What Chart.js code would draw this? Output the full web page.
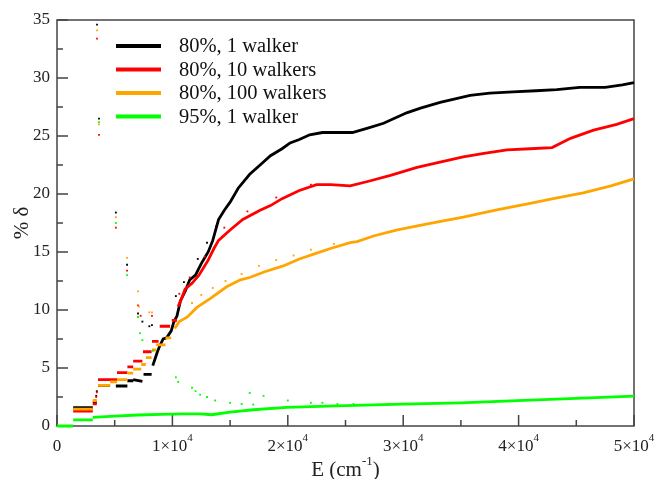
<!DOCTYPE html>
<html>
<head>
<meta charset="utf-8">
<script src="https://cdn.jsdelivr.net/npm/chart.js@4.4.1/dist/chart.umd.min.js"></script>
<style>
  html, body { margin: 0; padding: 0; background: #fff; }
</style>
</head>
<body>
<canvas id="chart" width="655" height="479"></canvas>
<script>
// series names as in the legend
const seriesNames = ['80%, 1 walker', '80%, 10 walkers', '80%, 100 walkers', '95%, 1 walker'];
const seriesColors = ['#000000', '#ff0000', '#ffa500', '#00ff00'];

// main curves (E in cm^-1, % delta); null = break between steps
const blackE = [1400, 3100, null, 3100, 3450, null, 3550, 4600, null, 5100, 6100, null, 6100, 6600, null, 6600, 7400, null, 7500, 8200, null,
  8300, 8500, 8700, 8900, 9200, 9500, 9900, 10100, 10400, 10700, 11100, 11500, 12000, 12500, 13100, 13500, 14000, 14500, 15000, 15700,
  16700, 17600, 18500, 19500, 20200, 21000, 21900, 23000, 24000, 25600, 27000, 28300, 30300, 31500, 33200, 35800, 37500, 39500, 41500,
  43300, 45300, 47500, 49000, 50000];
const blackV = [1.58, 1.58, null, 2.05, 2.05, null, 3.5, 3.5, null, 3.45, 3.45, null, 3.9, 3.9, null, 4.0, 3.85, null, 4.45, 4.45, null,
  5.2, 5.8, 6.4, 6.9, 7.5, 7.6, 8.2, 8.9, 9.5, 10.8, 11.6, 12.6, 13.0, 14.0, 15.0, 16.0, 17.8, 18.6, 19.3, 20.5,
  21.7, 22.5, 23.3, 23.9, 24.4, 24.7, 25.1, 25.3, 25.3, 25.3, 25.7, 26.1, 27.0, 27.4, 27.9, 28.5, 28.7, 28.8, 28.9,
  29.0, 29.2, 29.2, 29.4, 29.6];

const redE = [1400, 3100, null, 3100, 3450, null, 3550, 5200, null, 5200, 6100, null, 6100, 6600, null, 6600, 7400, null, 7450, 8200, null,
  8230, 8800, null, 8900, 9800, null, 9950, 10400, null,
  10500, 10800, 11100, 11700, 12300, 13100, 13600, 14000, 15000, 16100, 17600, 18500, 19500, 21000, 22500, 23700, 25400, 27000,
  28900, 31200, 33000, 35200, 37000, 39000, 41000, 42900, 44500, 46500, 48500, 50000];
const redV = [1.29, 1.29, null, 1.9, 1.9, null, 4.0, 4.0, null, 4.6, 4.6, null, 5.1, 5.1, null, 5.6, 5.6, null, 6.4, 6.4, null,
  7.3, 7.3, null, 8.6, 8.6, null, 9.1, 9.1, null,
  10.3, 11.0, 11.8, 12.3, 13.0, 14.3, 15.3, 16.0, 16.9, 17.8, 18.6, 19.0, 19.6, 20.3, 20.8, 20.8, 20.7, 21.1,
  21.6, 22.3, 22.7, 23.2, 23.5, 23.8, 23.9, 24.0, 24.8, 25.5, 26.0, 26.5];

const orangeE = [1400, 3100, null, 3100, 3450, null, 3550, 4600, null, 4600, 5200, null, 5200, 6100, null, 6100, 6600, null, 6600, 7300, null,
  7300, 7700, null, 7700, 8200, null, 8230, 8600, null, 8600, 9400, null, 9400, 9900, null,
  10200, 10600, 11300, 12100, 13300, 14700, 15900, 16700, 18000, 19600, 21000, 22500, 23700, 25400, 26000, 27500, 29500,
  32000, 35200, 38000, 41000, 43000, 45600, 48000, 50000];
const orangeV = [1.46, 1.46, null, 2.2, 2.2, null, 3.5, 3.5, null, 3.8, 3.8, null, 4.0, 4.0, null, 4.55, 4.55, null, 4.9, 4.9, null,
  5.3, 5.3, null, 5.9, 5.9, null, 6.55, 6.55, null, 7.0, 7.0, null, 7.6, 7.6, null,
  8.4, 9.0, 9.4, 10.2, 11.0, 12.0, 12.6, 12.8, 13.3, 13.8, 14.4, 14.9, 15.3, 15.8, 15.9, 16.4, 16.9,
  17.4, 18.0, 18.6, 19.2, 19.6, 20.1, 20.7, 21.3];

const greenE = [0, 1400, null, 1400, 3100, null, 3100, 5000, 7000, 9000, 11000, 12400, 13400, 15000, 17000, 19900, 25000, 29900,
  35000, 39900, 45000, 50000];
const greenV = [0, 0, null, 0.52, 0.52, null, 0.75, 0.85, 0.95, 1.0, 1.05, 1.05, 0.97, 1.2, 1.4, 1.6, 1.75, 1.88,
  2.0, 2.18, 2.38, 2.58];

// scattered single points
const blackDotsE = [3470, 3640, 3400, 3450, 5100, 6070, 7020, 7400, 8230, 8000, 10300, 11000, 12200, 13000, 13800];
const blackDotsV = [34.6, 26.5, 2.6, 3.0, 18.4, 13.9, 9.7, 9.0, 8.7, 8.6, 11.2, 12.4, 14.4, 15.8, 17.2];
const redDotsE = [3470, 3640, 3400, 3450, 5100, 6070, 7020, 7250, 8230, 10600, 11500, 12800, 14500, 16500, 19000, 22000];
const redDotsV = [33.4, 25.1, 2.5, 2.9, 17.1, 13.4, 10.4, 9.5, 9.5, 11.4, 12.8, 14.6, 17.1, 18.5, 19.7, 20.8];
const orangeDotsE = [3470, 3640, 5100, 6070, 7020, 7100, 8000, 8230, 11700, 12500, 13500, 14600, 16000, 17500, 19000, 20500, 22000, 24000];
const orangeDotsV = [34.1, 26.0, 18.0, 14.5, 11.6, 10.3, 9.8, 9.8, 10.6, 11.3, 11.9, 12.5, 13.1, 13.8, 14.3, 14.7, 15.2, 15.7];
const greenDotsE = [3640, 5100, 6070, 7020, 7200, 7400, 8300, 10300, 10500, 11700, 12000, 12400, 13000, 13700, 15000, 16000,
  16700, 17000, 17900, 20000, 22000, 23000, 24300, 25700, 28700];
const greenDotsV = [26.2, 17.5, 13.0, 9.4, 8.0, 7.4, 6.5, 4.2, 3.8, 3.3, 3.0, 2.7, 2.5, 2.2, 2.0, 1.9,
  2.85, 1.85, 2.6, 2.2, 2.0, 2.0, 1.9, 1.9, 1.9];

const xMax = 50000;
const yMax = 35;

function toPoints(xs, ys) {
  return xs.map((x, i) => ({ x: x === null ? 0 : x, y: ys[i] }));
}

const lineSets = [[blackE, blackV], [redE, redV], [orangeE, orangeV], [greenE, greenV]];
const dotSets = [[blackDotsE, blackDotsV], [redDotsE, redDotsV], [orangeDotsE, orangeDotsV], [greenDotsE, greenDotsV]];

const datasets = [];
lineSets.forEach((s, i) => {
  datasets.push({
    label: seriesNames[i],
    data: toPoints(s[0], s[1]),
    showLine: true,
    borderColor: seriesColors[i],
    borderWidth: 2.8,
    pointRadius: 0,
    spanGaps: false,
    clip: 4,
    order: 4 - i
  });
});
dotSets.forEach((s, i) => {
  datasets.push({
    label: seriesNames[i] + ' dots',
    data: toPoints(s[0], s[1]),
    showLine: false,
    pointStyle: 'rect',
    pointRadius: 1.3,
    pointBorderWidth: 0,
    backgroundColor: seriesColors[i],
    borderColor: seriesColors[i],
    order: 4 - i
  });
});

const serif = "'Liberation Serif', 'Times New Roman', Times, 'DejaVu Serif', serif";

const framePlugin = {
  id: 'framePlugin',
  beforeDatasetsDraw(chart) {
    const ctx = chart.ctx;
    const a = chart.chartArea;
    const xs = chart.scales.x;
    const ys = chart.scales.y;
    ctx.save();
    ctx.strokeStyle = '#444';
    ctx.lineWidth = 1.5;
    ctx.strokeRect(a.left, a.top, a.right - a.left, a.bottom - a.top);

    // inward ticks, major and minor
    ctx.beginPath();
    for (let v = 0; v <= xMax; v += 5000) {
      const px = xs.getPixelForValue(v);
      const len = v % 10000 === 0 ? 11 : 6;
      ctx.moveTo(px, a.bottom);
      ctx.lineTo(px, a.bottom - len);
    }
    for (let v = 0; v <= yMax; v += 2.5) {
      const py = ys.getPixelForValue(v);
      const len = v % 5 === 0 ? 11 : 6;
      ctx.moveTo(a.left, py);
      ctx.lineTo(a.left + len, py);
    }
    ctx.stroke();
    ctx.restore();
  },
  afterDraw(chart) {
    const ctx = chart.ctx;
    const a = chart.chartArea;
    const xs = chart.scales.x;
    ctx.save();

    // x tick labels with superscript
    ctx.fillStyle = '#222';
    ctx.textBaseline = 'alphabetic';
    xs.ticks.forEach(t => {
      const px = xs.getPixelForValue(t.value);
      if (t.value === 0) {
        ctx.font = '17px ' + serif;
        ctx.textAlign = 'center';
        ctx.fillText('0', px, 451);
        return;
      }
      const base = (t.value / 10000) + '\u00d710';
      ctx.font = '17px ' + serif;
      const wb = ctx.measureText(base).width;
      ctx.font = '11px ' + serif;
      const ws = ctx.measureText('4').width;
      const x0 = px - (wb + ws) / 2;
      ctx.textAlign = 'left';
      ctx.font = '17px ' + serif;
      ctx.fillText(base, x0, 451);
      ctx.font = '11px ' + serif;
      ctx.fillText('4', x0 + wb, 441);
    });

    // x title
    ctx.font = '21px ' + serif;
    const p1 = 'E (cm', p3 = ')';
    const w1 = ctx.measureText(p1).width, w3 = ctx.measureText(p3).width;
    ctx.font = '13px ' + serif;
    const w2 = ctx.measureText('-1').width;
    const tx = (a.left + a.right) / 2 - (w1 + w2 + w3) / 2;
    ctx.textAlign = 'left';
    ctx.font = '21px ' + serif;
    ctx.fillText(p1, tx, 476);
    ctx.font = '13px ' + serif;
    ctx.fillText('-1', tx + w1, 465);
    ctx.font = '21px ' + serif;
    ctx.fillText(p3, tx + w1 + w2, 476);

    // y title
    ctx.save();
    ctx.translate(28, (a.top + a.bottom) / 2);
    ctx.rotate(-Math.PI / 2);
    ctx.textAlign = 'center';
    ctx.font = '21px ' + serif;
    ctx.fillText('% \u03b4', 0, 0);
    ctx.restore();

    // legend
    ctx.textAlign = 'left';
    ctx.textBaseline = 'middle';
    ctx.font = '20.5px ' + serif;
    seriesNames.forEach((name, i) => {
      const y = 46 + i * 23.5;
      ctx.strokeStyle = seriesColors[i];
      ctx.lineWidth = 4;
      ctx.beginPath();
      ctx.moveTo(116, y);
      ctx.lineTo(161, y);
      ctx.stroke();
      ctx.fillStyle = '#111';
      ctx.fillText(name, 179, y + 1);
    });
    ctx.restore();
  }
};

new Chart(document.getElementById('chart'), {
  type: 'scatter',
  data: { datasets: datasets },
  options: {
    responsive: false,
    animation: false,
    devicePixelRatio: 1,
    layout: { padding: { top: 20, right: 21, left: 0, bottom: 0 } },
    plugins: { legend: { display: false }, tooltip: { enabled: false } },
    scales: {
      x: {
        type: 'linear', min: 0, max: xMax,
        ticks: { stepSize: 10000, display: false },
        grid: { display: false, drawTicks: false },
        border: { display: false },
        afterFit: s => { s.height = 53; }
      },
      y: {
        type: 'linear', min: 0, max: yMax,
        ticks: { stepSize: 5, padding: 7, color: '#222', font: { family: serif, size: 17 } },
        grid: { display: false, drawTicks: false },
        border: { display: false },
        afterFit: s => { s.width = 57; }
      }
    }
  },
  plugins: [framePlugin]
});
</script>
</body>
</html>
